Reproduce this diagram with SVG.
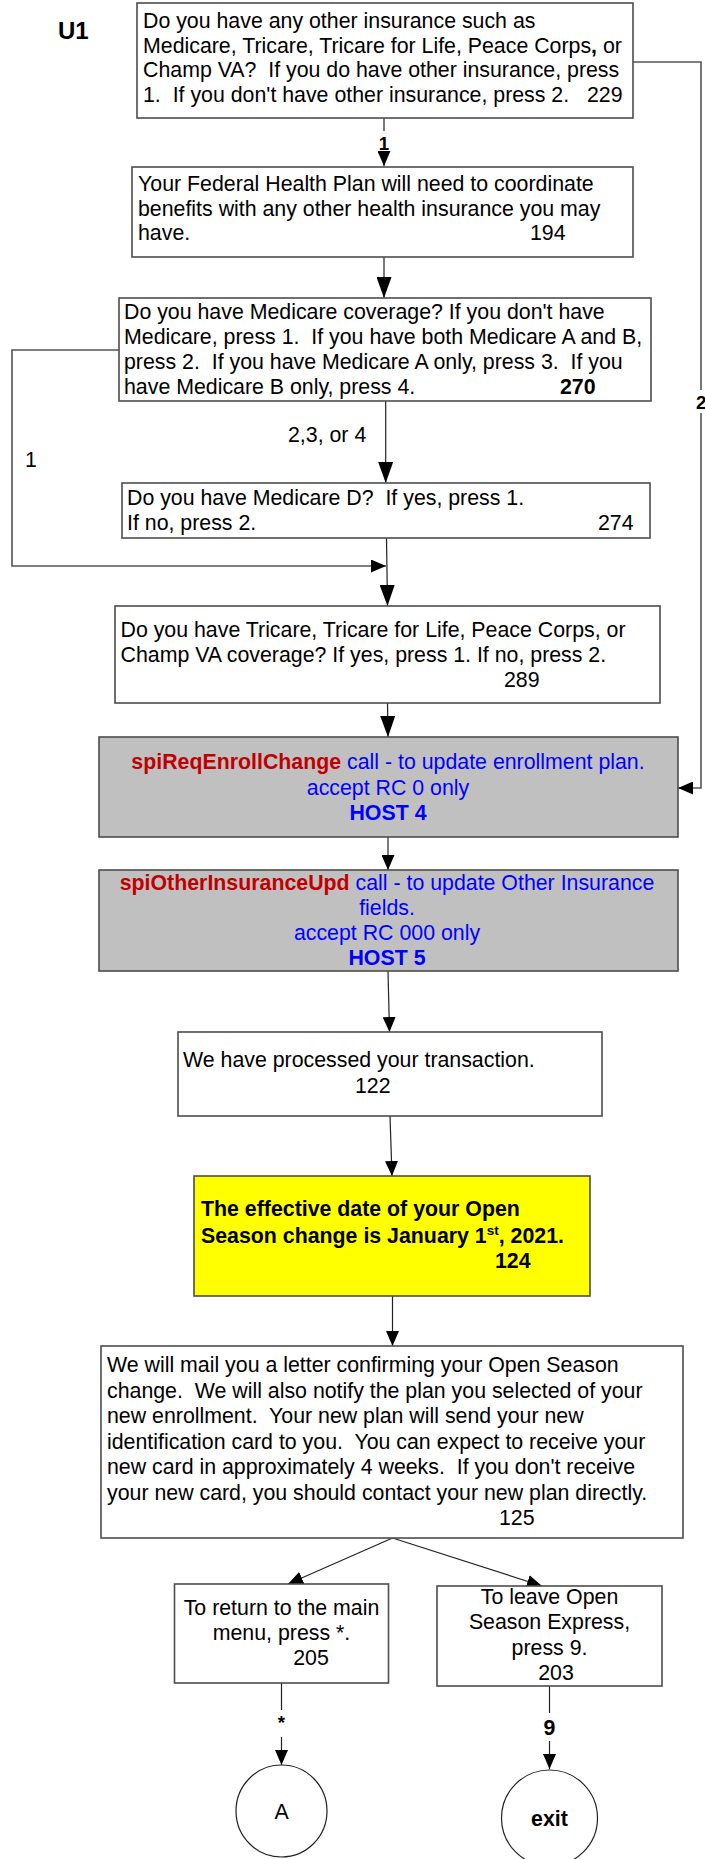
<svg xmlns="http://www.w3.org/2000/svg" width="705" height="1859" viewBox="0 0 705 1859">
  <style>
    text { font-family: "Liberation Sans", Arial, sans-serif; font-size: 21.33px; fill: #000; white-space: pre; }
    .b { font-weight: bold; }
    .c { text-anchor: middle; }
    .lbl { font-size: 18.7px; font-weight: bold; }
    .box { fill: #fff; stroke: #4d4d4d; stroke-width: 1.6; }
    .gray { fill: #c0c0c0; stroke: #4d4d4d; stroke-width: 1.6; }
    .yel { fill: #ffff00; stroke: #4d4d4d; stroke-width: 1.6; }
    .red { fill: #c00000; font-weight: bold; }
    .blue { fill: #0000ff; }
    .conn { fill: none; stroke: #222; stroke-width: 1.2; }
    .loop { fill: none; stroke: #555; stroke-width: 1.6; }
  </style>
  <defs>
    <marker id="arr" markerUnits="userSpaceOnUse" markerWidth="15" markerHeight="13" refX="15" refY="6.5" orient="auto">
      <path d="M0,0 L15,6.5 L0,13 z" fill="#000"/>
    </marker>
    <marker id="arrBig" markerUnits="userSpaceOnUse" markerWidth="21" markerHeight="15" refX="21" refY="7.5" orient="auto">
      <path d="M0,0 L21,7.5 L0,15 z" fill="#000"/>
    </marker>
  </defs>

  <text x="58" y="39" class="b" style="font-size:24px">U1</text>

  <!-- connectors -->
  <g id="connectors">
    <line class="conn" x1="384" y1="118" x2="384" y2="131"/>
    <line class="conn" x1="384" y1="151" x2="384" y2="166" marker-end="url(#arr)"/>
    <text x="384" y="150" class="lbl c">1</text>

    <line class="conn" x1="384" y1="257" x2="384" y2="298" marker-end="url(#arrBig)"/>

    <line class="conn" x1="385.7" y1="401" x2="385.7" y2="483" marker-end="url(#arrBig)"/>
    <text x="288" y="442">2,3, or 4</text>

    <polyline class="loop" points="119,350 12,350 12,566 386,566" marker-end="url(#arr)"/>
    <text x="25" y="467">1</text>

    <line class="conn" x1="386.5" y1="538" x2="387.5" y2="606" marker-end="url(#arrBig)"/>
    <line class="conn" x1="387.5" y1="703" x2="388" y2="737" marker-end="url(#arrBig)"/>

    <polyline class="loop" points="633,62 701,62 701,390"/>
    <polyline class="loop" points="701,413 701,788 678,788" marker-end="url(#arr)"/>
    <text x="696" y="409" class="lbl">2</text>

    <line class="conn" x1="388" y1="837" x2="388" y2="870" marker-end="url(#arr)"/>
    <line class="conn" x1="388" y1="971" x2="389.5" y2="1032" marker-end="url(#arr)"/>
    <line class="conn" x1="390" y1="1116" x2="392" y2="1176" marker-end="url(#arr)"/>
    <line class="conn" x1="392.5" y1="1296" x2="392.5" y2="1346" marker-end="url(#arr)"/>

    <line class="conn" x1="392.5" y1="1538" x2="288" y2="1584" marker-end="url(#arr)"/>
    <line class="conn" x1="392.5" y1="1538" x2="542" y2="1586" marker-end="url(#arr)"/>

    <line class="conn" x1="281.5" y1="1683" x2="281.5" y2="1710"/>
    <line class="conn" x1="281.5" y1="1737" x2="281.5" y2="1765" marker-end="url(#arr)"/>
    <text x="281.5" y="1729" class="lbl c">*</text>

    <line class="conn" x1="549.5" y1="1686" x2="549.5" y2="1713"/>
    <line class="conn" x1="549.5" y1="1741" x2="549.5" y2="1769" marker-end="url(#arr)"/>
    <text x="549.5" y="1735" class="b c">9</text>
  </g>

  <g id="n229">
    <rect class="box" x="137" y="3" width="496" height="115"/>
    <text><tspan x="143" y="28">Do you have any other insurance such as</tspan><tspan x="143" y="52.5">Medicare, Tricare, Tricare for Life, Peace Corps</tspan><tspan class="b">,</tspan><tspan> or</tspan><tspan x="143" y="77">Champ VA?  If you do have other insurance, press</tspan><tspan x="143" y="101.5">1.  If you don't have other insurance, press 2.   229</tspan></text>
  </g>

  <g id="n194">
    <rect class="box" x="132" y="167" width="501" height="90"/>
    <text><tspan x="138" y="191">Your Federal Health Plan will need to coordinate</tspan><tspan x="138" y="215.5">benefits with any other health insurance you may</tspan><tspan x="138" y="240">have.</tspan><tspan x="530" y="240">194</tspan></text>
  </g>

  <g id="n270">
    <rect class="box" x="119" y="298" width="532" height="103"/>
    <text><tspan x="124" y="319">Do you have Medicare coverage? If you don't have</tspan><tspan x="124" y="344">Medicare, press 1.  If you have both Medicare A and B,</tspan><tspan x="124" y="369">press 2.  If you have Medicare A only, press 3.  If you</tspan><tspan x="124" y="394">have Medicare B only, press 4.</tspan><tspan x="560" y="394" class="b">270</tspan></text>
  </g>

  <g id="n274">
    <rect class="box" x="122" y="483" width="528" height="55"/>
    <text><tspan x="127" y="505">Do you have Medicare D?  If yes, press 1.</tspan><tspan x="127" y="530">If no, press 2.</tspan><tspan x="598" y="530">274</tspan></text>
  </g>

  <g id="n289">
    <rect class="box" x="115" y="606" width="545" height="97"/>
    <text><tspan x="120.5" y="637">Do you have Tricare, Tricare for Life, Peace Corps, or</tspan><tspan x="120.5" y="662">Champ VA coverage? If yes, press 1. If no, press 2.</tspan><tspan x="504" y="687">289</tspan></text>
  </g>

  <g id="host4">
    <rect class="gray" x="99" y="737" width="579" height="100"/>
    <text class="c"><tspan x="388" y="769"><tspan class="red">spiReqEnrollChange</tspan><tspan class="blue"> call - to update enrollment plan.</tspan></tspan><tspan x="388" y="795" class="blue">accept RC 0 only</tspan><tspan x="388" y="820" class="blue b">HOST 4</tspan></text>
  </g>

  <g id="host5">
    <rect class="gray" x="99" y="870" width="579" height="101"/>
    <text class="c"><tspan x="387" y="890"><tspan class="red">spiOtherInsuranceUpd</tspan><tspan class="blue"> call - to update Other Insurance</tspan></tspan><tspan x="387" y="915" class="blue">fields.</tspan><tspan x="387" y="940" class="blue">accept RC 000 only</tspan><tspan x="387" y="965" class="blue b">HOST 5</tspan></text>
  </g>

  <g id="n122">
    <rect class="box" x="178" y="1032" width="424" height="84"/>
    <text><tspan x="183" y="1067">We have processed your transaction.</tspan><tspan x="355" y="1093">122</tspan></text>
  </g>

  <g id="n124">
    <rect class="yel" x="194" y="1176" width="396" height="120"/>
    <text class="b"><tspan x="201" y="1216">The effective date of your Open</tspan><tspan x="201" y="1243">Season change is January 1</tspan><tspan dy="-8" style="font-size:13.5px">st</tspan><tspan dy="8">, 2021.</tspan><tspan x="495" y="1268">124</tspan></text>
  </g>

  <g id="n125">
    <rect class="box" x="101" y="1346" width="582" height="192"/>
    <text><tspan x="107" y="1372">We will mail you a letter confirming your Open Season</tspan><tspan x="107" y="1397.5">change.  We will also notify the plan you selected of your</tspan><tspan x="107" y="1423">new enrollment.  Your new plan will send your new</tspan><tspan x="107" y="1448.5">identification card to you.  You can expect to receive your</tspan><tspan x="107" y="1474">new card in approximately 4 weeks.  If you don't receive</tspan><tspan x="107" y="1499.5">your new card, you should contact your new plan directly.</tspan><tspan x="499" y="1525">125</tspan></text>
  </g>

  <g id="n205">
    <rect class="box" x="174.5" y="1584" width="214" height="99"/>
    <text class="c"><tspan x="281.5" y="1615">To return to the main</tspan><tspan x="281.5" y="1640">menu, press *.</tspan><tspan x="311" y="1665">205</tspan></text>
  </g>

  <g id="n203">
    <rect class="box" x="437" y="1586" width="225" height="100"/>
    <text class="c"><tspan x="549.5" y="1604">To leave Open</tspan><tspan x="549.5" y="1629">Season Express,</tspan><tspan x="549.5" y="1655">press 9.</tspan><tspan x="556" y="1680">203</tspan></text>
  </g>

  <g id="A">
    <ellipse cx="281.5" cy="1811" rx="45.5" ry="46" fill="#fff" stroke="#222" stroke-width="1.2"/>
    <text x="281.5" y="1819" class="c">A</text>
  </g>

  <g id="exit">
    <ellipse cx="549.5" cy="1818" rx="48" ry="48" fill="#fff" stroke="#222" stroke-width="1.2"/>
    <text x="549.5" y="1826" class="b c">exit</text>
  </g>
</svg>
